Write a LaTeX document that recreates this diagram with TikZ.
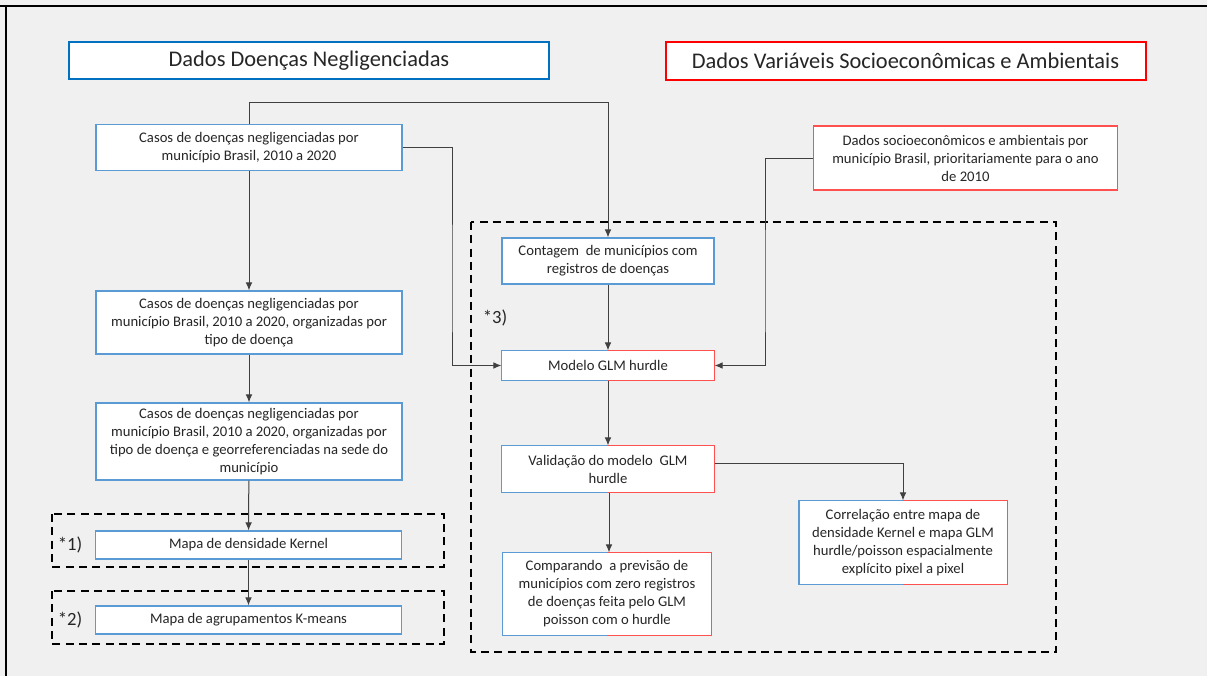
\documentclass[tikz,border=0pt]{standalone}
\usepackage{fontspec}
\setmainfont{Carlito}
\usetikzlibrary{arrows.meta,calc}

\definecolor{bgfill}{RGB}{240,240,240}
\definecolor{boxblue}{RGB}{91,155,213}
\definecolor{boxred}{RGB}{255,80,80}
\definecolor{titleblue}{RGB}{0,112,192}
\definecolor{txtgray}{RGB}{38,38,38}
\definecolor{linegray}{RGB}{64,64,64}

% left half blue, right half red
\newcommand{\splitedge}[1]{%
  \draw[boxblue,line width=0.9pt] (#1.north) -- (#1.north west) -- (#1.south west) -- (#1.south);
  \draw[boxred,line width=0.9pt] (#1.north) -- (#1.north east) -- (#1.south east) -- (#1.south);}

\begin{document}
\begin{tikzpicture}[x=0.75pt,y=-0.75pt,
  box/.style={draw=boxblue,fill=white,line width=0.9pt,align=center,text=txtgray,
    font=\fontsize{11}{13.5}\selectfont,inner sep=0pt},
  redbox/.style={box,draw=boxred},
  splitbox/.style={box,draw=none},
  titlebox/.style={box,line width=1.5pt,font=\fontsize{16.8}{19}\selectfont,
    minimum width=360pt,minimum height=28pt},
  group/.style={line width=1.5pt,dash pattern=on 6pt off 4pt},
  star/.style={text=txtgray,font=\fontsize{14}{16}\selectfont},
  arr/.style={linegray,line width=0.75pt,-{Latex[length=6pt,width=5pt]}}]

% page
\fill[bgfill] (0,0) rectangle (1207,676);
\useasboundingbox (0,0) rectangle (1207,676);
\draw[line width=1.5pt] (0,6) -- (1207,6) (6,6) -- (6,676);

% titles
\node[titlebox,draw=titleblue] (tdoencas) at (309,60.5) {Dados Doenças Negligenciadas};
\node[titlebox,draw=red] (tsocio) at (905.5,61) {Dados Variáveis Socioeconômicas e Ambientais};

% dashed groups
\draw[group] (52,514) rectangle (444,567);
\draw[group] (52,591) rectangle (444,644);
\draw[group] (471,222) rectangle (1056,652);
\node[star] (g1) at (70,545) {*1)};
\node[star] (g2) at (70,620) {*2)};
\node[star] (g3) at (495,318) {*3)};

% left column
\node[box,minimum width=229.5pt,minimum height=34.5pt] (casos) at (249,147.5)
  {Casos de doenças negligenciadas por\\município Brasil, 2010 a 2020};
\node[box,minimum width=229.5pt,minimum height=47.25pt] (tipo) at (249,322.5)
  {Casos de doenças negligenciadas por\\município Brasil, 2010 a 2020, organizadas por\\tipo de doença};
\node[box,minimum width=229.5pt,minimum height=57.75pt] (sede) at (249,441.5)
  {Casos de doenças negligenciadas por\\município Brasil, 2010 a 2020, organizadas por\\tipo de doença e georreferenciadas na sede do\\município};
\node[box,minimum width=229.5pt,minimum height=21pt] (kernel) at (248.5,545) {Mapa de densidade Kernel};
\node[box,minimum width=229.5pt,minimum height=21pt] (kmeans) at (248.5,620) {Mapa de agrupamentos K-means};

% right column
\node[redbox,minimum width=228pt,minimum height=48pt] (socio) at (965.5,158)
  {Dados socioeconômicos e ambientais por\\município Brasil, prioritariamente para o ano\\de 2010};
\node[box,minimum width=159pt,minimum height=34.5pt] (contagem) at (608,261)
  {Contagem\ \ de municípios com\\registros de doenças};
\node[splitbox,minimum width=159pt,minimum height=21.75pt] (modelo) at (608,365.5) {Modelo GLM hurdle};
\node[splitbox,minimum width=159pt,minimum height=34.5pt] (valid) at (608,469)
  {Validação do modelo\ \ GLM\\hurdle};
\node[splitbox,minimum width=156pt,minimum height=61.5pt] (compar) at (607,594)
  {Comparando\ \ a previsão de\\municípios com zero registros\\de doenças feita pelo GLM\\poisson com o hurdle};
\node[splitbox,minimum width=155.25pt,minimum height=62.25pt] (correl) at (903,542.5)
  {Correlação entre mapa de\\densidade Kernel e mapa GLM\\hurdle/poisson espacialmente\\explícito pixel a pixel};
\splitedge{modelo}
\splitedge{valid}
\splitedge{compar}
\splitedge{correl}

% connectors
\coordinate (bendtop) at (608,102);
\coordinate (bendleft) at (452,300);
\coordinate (bendright) at (765,300);
\draw[arr] (casos) -- (tipo);
\draw[arr] (tipo) -- (sede);
\draw[arr] (sede) -- (kernel);
\draw[arr] (kernel) -- (kmeans);
\draw[arr] (casos.north) |- (bendtop) -- (contagem.north);
\draw[arr] (casos.east) -| (bendleft) |- (modelo.west);
\draw[arr] (socio.west) -| (bendright) |- (modelo.east);
\draw[arr] (contagem) -- (modelo);
\draw[arr] (modelo) -- (valid);
\draw[arr] ([xshift=0.75pt]valid.south) -- ([xshift=0.75pt]valid.south |- compar.north);
\draw[arr] ([yshift=4.5pt]valid.east) -| (correl.north);

\end{tikzpicture}
\end{document}
